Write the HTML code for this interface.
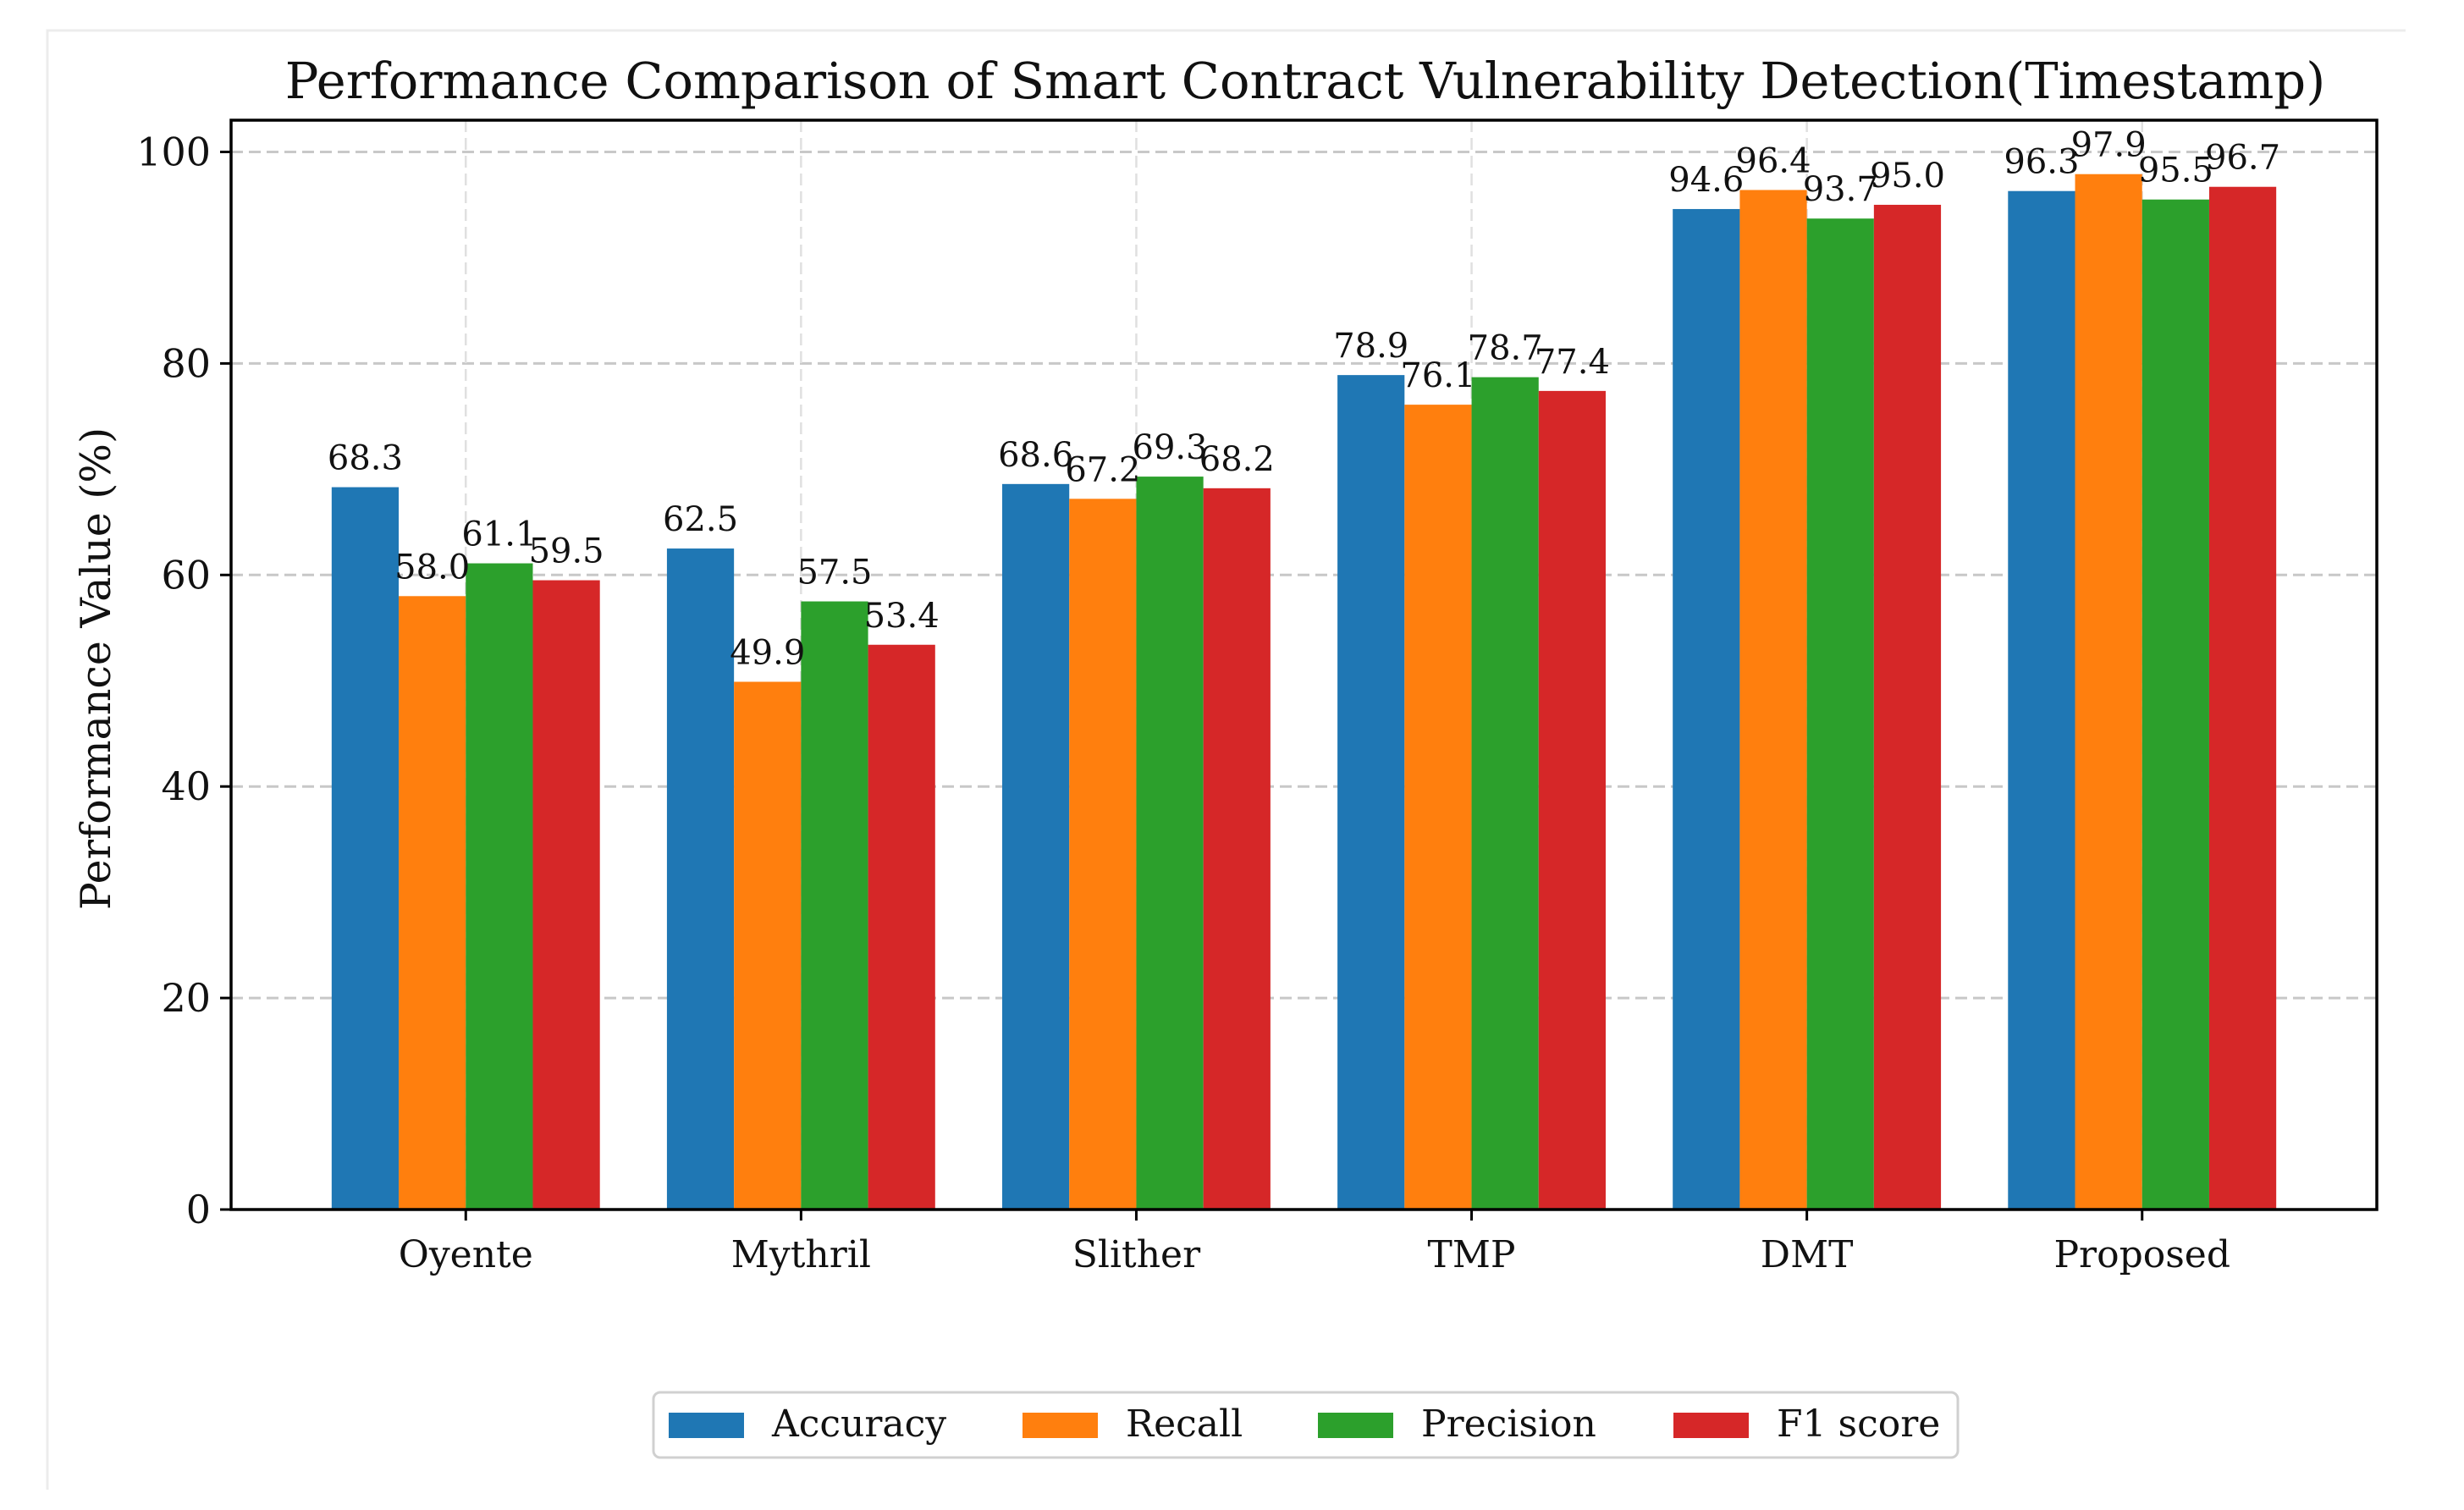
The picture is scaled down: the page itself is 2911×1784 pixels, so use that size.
<!DOCTYPE html>
<html><head><meta charset="utf-8"><style>
html,body{margin:0;padding:0;background:#fff}
svg{display:block}
text{font-family:"DejaVu Serif","Liberation Serif",serif;fill:#111}
</style></head><body>
<svg id="chart" width="2911" height="1784" viewBox="0 0 2911 1784" xmlns="http://www.w3.org/2000/svg">
<rect x="0" y="0" width="2911" height="1784" fill="#fff"/>
<path d="M56 1760 V36 H2842" fill="none" stroke="#ececec" stroke-width="3"/>
<text x="1542" y="116" font-size="59" text-anchor="middle">Performance Comparison of Smart Contract Vulnerability Detection(Timestamp)</text>
<text transform="translate(130,790) rotate(-90)" font-size="49" text-anchor="middle">Performance Value (%)</text>
<g id="grid"></g>
<g id="bars"></g>
<g id="labels"></g>
<g id="axes"></g>
<g id="legend"></g>
</svg>
<script>
const categories = ["Oyente","Mythril","Slither","TMP","DMT","Proposed"];
const seriesNames = ["Accuracy","Recall","Precision","F1 score"];
const accuracy = [68.3,62.5,68.6,78.9,94.6,96.3];
const recall = [58.0,49.9,67.2,76.1,96.4,97.9];
const precision = [61.1,57.5,69.3,78.7,93.7,95.5];
const f1 = [59.5,53.4,68.2,77.4,95.0,96.7];
const yTicks = [0,20,40,60,80,100];
const colors = ["#1f77b4","#ff7f0e","#2ca02c","#d62728"];
const series = [accuracy, recall, precision, f1];

const NS="http://www.w3.org/2000/svg";
const L=273,R=2808,T=142,B=1429;
const xMin=-0.7,xMax=categories.length-1+0.7,yMin=0,yMax=103;
function X(v){return L+(v-xMin)/(xMax-xMin)*(R-L);}
function Y(v){return B-(v-yMin)/(yMax-yMin)*(B-T);}
function mk(tag,attrs,parent){const e=document.createElementNS(NS,tag);for(const k in attrs)e.setAttribute(k,attrs[k]);parent.appendChild(e);return e;}
const grid=document.getElementById('grid'),bars=document.getElementById('bars'),labels=document.getElementById('labels'),axes=document.getElementById('axes'),legend=document.getElementById('legend');

yTicks.forEach(t=>{
  const g=mk('line',{x1:L,x2:R,y1:Y(t),y2:Y(t),stroke:'#c8c8c8','stroke-width':3,'stroke-dasharray':'14 7'},grid);
  
  
  const tk=mk('line',{x1:L-13,x2:L,y1:Y(t),y2:Y(t),stroke:'#000','stroke-width':3},axes);
  
  
  const tl=mk('text',{x:L-24,y:Y(t)+16,'font-size':46,'text-anchor':'end'},axes);
  tl.textContent=t;
  
  
});
categories.forEach((c,i)=>{
  const g=mk('line',{x1:X(i),x2:X(i),y1:T,y2:B,stroke:'#e0e0e0','stroke-width':2.5,'stroke-dasharray':'14 7'},grid);
  
  
  const tk=mk('line',{x1:X(i),x2:X(i),y1:B,y2:B+13,stroke:'#000','stroke-width':3},axes);
  
  
  const tl=mk('text',{x:X(i),y:B+68,'font-size':44,'text-anchor':'middle'},axes);
  tl.textContent=c;
  
  
});
const bw=0.2;
series.forEach((vals,s)=>{
  vals.forEach((v,i)=>{
    const xc=i+(s-1.5)*bw;
    const x0=X(xc-bw/2),x1=X(xc+bw/2);
    const r=mk('rect',{x:x0,y:Y(v),width:x1-x0,height:B-Y(v),fill:colors[s]},bars);
    
    
    const t=mk('text',{x:X(xc),y:Y(v)-21,'font-size':40,'text-anchor':'middle'},labels);
    t.textContent=v.toFixed(1);
    
    
  });
});
const frame=mk('rect',{x:L,y:T,width:R-L,height:B-T,fill:'none',stroke:'#000','stroke-width':3.5},axes);



const lb=mk('rect',{x:772,y:1645,width:1541,height:77,rx:8,fill:'#fff',stroke:'#d0d0d0','stroke-width':3},legend);


const px=[790,1208,1557,1977];
seriesNames.forEach((n,s)=>{
  const p=mk('rect',{x:px[s],y:1669,width:89,height:30,fill:colors[s]},legend);
  
  
  const t=mk('text',{x:px[s]+122,y:1697,'font-size':44},legend);
  t.textContent=n;
  
  
});
</script>
</body></html>
